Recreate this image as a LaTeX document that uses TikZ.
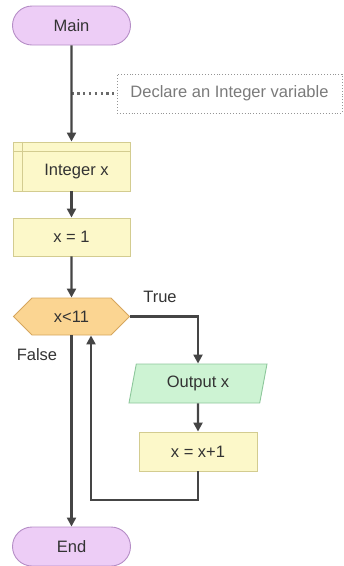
\documentclass[tikz,border=0pt]{standalone}
\usepackage{fontspec}
\setmainfont{Liberation Sans}
\usetikzlibrary{arrows.meta,shapes.misc,shapes.symbols,shapes.geometric,calc}

\definecolor{ink}{HTML}{454545}
\definecolor{txt}{HTML}{333333}
\definecolor{notetxt}{HTML}{7A7A7A}
\definecolor{pillfill}{HTML}{EDCDF6}
\definecolor{pilldraw}{HTML}{B58DC6}
\definecolor{boxfill}{HTML}{FCF8C9}
\definecolor{boxdraw}{HTML}{D3CC90}
\definecolor{condfill}{HTML}{FBD592}
\definecolor{conddraw}{HTML}{D6A65E}
\definecolor{iofill}{HTML}{CDF3D3}
\definecolor{iodraw}{HTML}{8DC79B}

\tikzset{
  base/.style={inner sep=0pt, text=txt, font=\fontsize{16.5}{19}\selectfont, line width=0.9pt},
  pill/.style={base, rounded rectangle, fill=pillfill, draw=pilldraw,
               minimum width=118pt, minimum height=39pt},
  procbox/.style={base, rectangle, fill=boxfill, draw=boxdraw,
               minimum width=117pt, minimum height=#1},
  cond/.style={base, signal, signal to=west and east, signal pointer angle=90,
               fill=condfill, draw=conddraw, minimum width=116pt, minimum height=37pt},
  iobox/.style={base, trapezium, trapezium left angle=64, trapezium right angle=116,
               trapezium stretches body, fill=iofill, draw=iodraw,
               minimum width=138pt, minimum height=39pt},
  note/.style={base, rectangle, draw=notetxt!80, dotted, text=notetxt,
               minimum width=225pt, minimum height=39pt},
  flow/.style={draw=ink, line width=2.3pt, -{Triangle[length=9pt,width=9pt]}},
  lbl/.style={inner sep=0pt, text=txt, font=\fontsize{16.5}{19}\selectfont},
}

\begin{document}
\begin{tikzpicture}[x=1pt,y=-1pt]
\useasboundingbox (0,0) rectangle (344,566);

% main column
\node[pill] (main) at (71.5,25.5) {Main};
% predefined-process box: text sits in the area right of / below the inner rules
\node[procbox=49pt] (intx) at (71.5,166.5) {\hspace{10pt}\rule{0pt}{22pt}Integer x};
\draw[boxdraw, line width=0.9pt] ($(intx.north west)+(10,0)$) -- ($(intx.south west)+(10,0)$);
\draw[boxdraw, line width=0.9pt] ($(intx.north west)+(0,10)$) -- ($(intx.north east)+(0,10)$);
\node[procbox=38pt] (x1) at (71.5,237) {x = 1};
\node[cond] (dec) at (71.5,316.5) {x<11};
\node[pill] (end) at (71.5,546.5) {End};

% loop body
\node[iobox] (out) at (198,383.5) {Output x};
\node[procbox=39pt, minimum width=118pt] (inc) at (198,451.5) {x = x+1};

% comment
\node[note] (cmt) at (229.5,93.5) {Declare an Integer variable};
\coordinate (tap) at (71.5,93.5);
\draw[ink!80, line width=2.2pt, dash pattern=on 2.2pt off 3.6pt] (tap) -- (cmt.west);

% connectors
\draw[flow] (main) -- (intx);
\draw[flow] (intx) -- (x1);
\draw[flow] (x1) -- (dec);
\draw[flow] (dec.east) -| (out.north);
\draw[flow] (out) -- (inc);
\coordinate (back) at (91,500);
\draw[flow] (inc.south) |- (back) -- (back |- dec.south);
\draw[flow] (dec.south) -- (end.north);

% branch labels
\node[lbl] (ltrue) at (160,297) {True};
\node[lbl] (lfalse) at (37,355) {False};
\end{tikzpicture}
\end{document}
